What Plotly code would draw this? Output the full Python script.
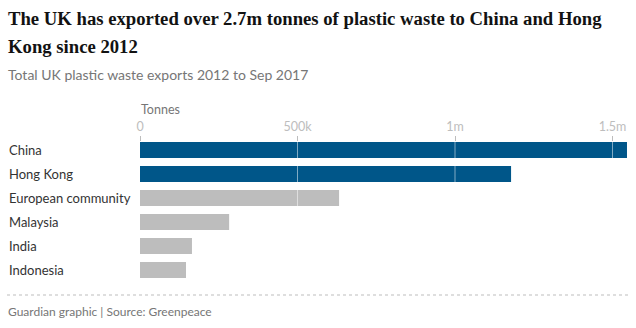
import plotly.graph_objects as go

countries = ["China", "Hong Kong", "European community", "Malaysia", "India", "Indonesia"]
tonnes = [1546000, 1178000, 632000, 283000, 165000, 146000]
highlight = [True, True, False, False, False, False]
tick_vals = [0, 500000, 1000000, 1500000]
tick_text = ["0", "500k", "1m", "1.5m"]

W, H = 636, 328
L, R, T, B = 140, 8, 142, 46
pw, ph = W - L - R, H - T - B

def px(x):
    return (x - L) / pw

def py(y):
    return (H - B - y) / ph

BLUE = "#005689"
GREY = "#bdbdbd"

fig = go.Figure()
fig.add_trace(go.Bar(
    x=tonnes, y=countries, orientation="h",
    marker=dict(color=[BLUE if h else GREY for h in highlight], line=dict(width=0)),
    width=0.667, hoverinfo="x+y",
))

annotations = []
for c in countries:
    annotations.append(dict(x=px(7), xref="paper", y=c, yref="y", text=c, showarrow=False,
                            xanchor="left", yanchor="middle",
                            font=dict(family="Lato", size=13, color="#333333")))

annotations += [
    dict(x=px(6), xref="paper", y=py(18), yref="paper", xanchor="left", yanchor="middle",
         text="<b>The UK has exported over 2.7m tonnes of plastic waste to China and Hong</b>",
         showarrow=False, font=dict(family="Liberation Serif", size=18.7, color="#121212")),
    dict(x=px(6), xref="paper", y=py(46), yref="paper", xanchor="left", yanchor="middle",
         text="<b>Kong since 2012</b>",
         showarrow=False, font=dict(family="Liberation Serif", size=18.7, color="#121212")),
    dict(x=px(6), xref="paper", y=py(75), yref="paper", xanchor="left", yanchor="middle",
         text="Total UK plastic waste exports 2012 to Sep 2017",
         showarrow=False, font=dict(family="Lato", size=14, color="#767676")),
    dict(x=px(139), xref="paper", y=py(109), yref="paper", xanchor="left", yanchor="middle",
         text="Tonnes", showarrow=False, font=dict(family="Lato", size=12.5, color="#767676")),
    dict(x=px(6), xref="paper", y=py(311), yref="paper", xanchor="left", yanchor="middle",
         text="Guardian graphic | Source: Greenpeace",
         showarrow=False, font=dict(family="Lato", size=12, color="#767676")),
]

shapes = [dict(type="line", xref="paper", yref="paper", x0=px(7), x1=px(628), y0=py(295), y1=py(295),
               line=dict(color="#bdbdbd", width=1, dash="dot"))]
for v in tick_vals[1:]:
    shapes.append(dict(type="line", xref="x", yref="paper", x0=v, x1=v, y0=0, y1=1, layer="above",
                       line=dict(color="rgba(255,255,255,0.5)", width=1)))

fig.update_layout(
    width=W, height=H,
    margin=dict(l=L, r=R, t=T, b=B, pad=0),
    paper_bgcolor="white", plot_bgcolor="white",
    showlegend=False, bargap=0.333,
    annotations=annotations,
    shapes=shapes,
    xaxis=dict(side="top", range=[0, (W - R - L) / 315 * 1e6], tickvals=tick_vals, ticktext=tick_text,
               showgrid=False,
               ticks="outside", ticklen=5, tickcolor=GREY, tickwidth=1,
               tickfont=dict(family="Lato", size=12.5, color=GREY),
               zeroline=False, showline=False, fixedrange=True),
    yaxis=dict(categoryorder="array", categoryarray=countries, range=[5.5, -0.333],
               showticklabels=False, showgrid=False, zeroline=False, showline=False, ticks="",
               fixedrange=True),
)

fig.write_html("out.html", config={"displayModeBar": False})
